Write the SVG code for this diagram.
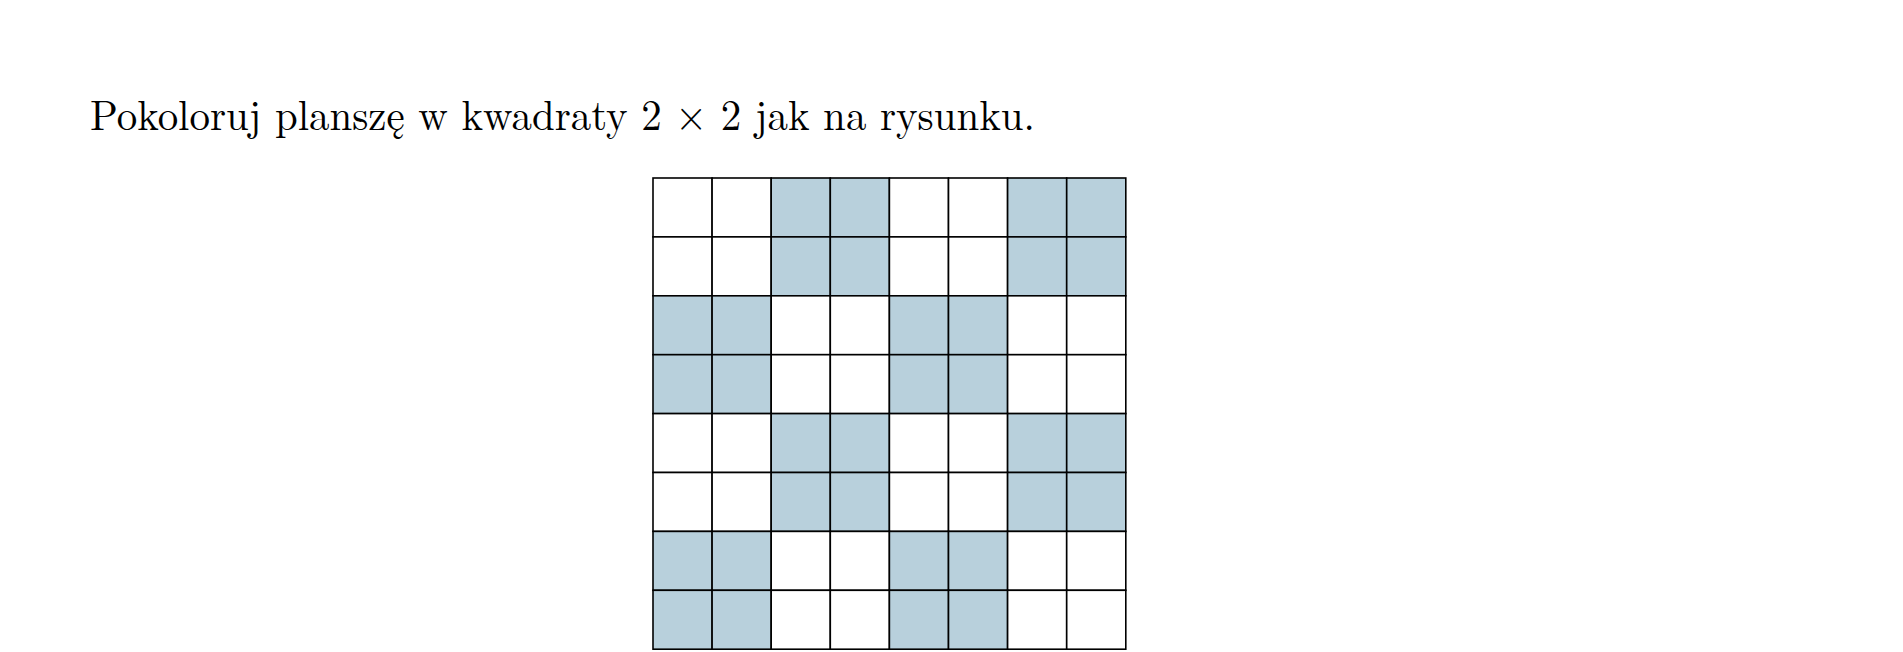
<svg xmlns="http://www.w3.org/2000/svg" width="1903" height="652" viewBox="0 0 1903 652">
<style>
.t{font-family:"Latin Modern Roman","Liberation Serif","DejaVu Serif",serif;font-size:43px;fill:#000}
.w{fill:#fff;stroke:#000;stroke-width:1.6}
.b{fill:#b8d0dc;stroke:#000;stroke-width:1.6}
</style>
<rect width="1903" height="652" fill="#fff"/>
<text class="t" x="90" y="130" textLength="945" lengthAdjust="spacingAndGlyphs">Pokoloruj planszę w kwadraty 2 × 2 jak na rysunku.</text>
<g id="board">
<g id="r0"><rect class="w" x="653" y="178" width="59.1" height="58.9"/><rect class="w" x="712.1" y="178" width="59.1" height="58.9"/><rect class="b" x="771.2" y="178" width="59.1" height="58.9"/><rect class="b" x="830.3" y="178" width="59.1" height="58.9"/><rect class="w" x="889.4" y="178" width="59.1" height="58.9"/><rect class="w" x="948.5" y="178" width="59.1" height="58.9"/><rect class="b" x="1007.6" y="178" width="59.1" height="58.9"/><rect class="b" x="1066.7" y="178" width="59.1" height="58.9"/></g>
<g id="r1"><rect class="w" x="653" y="236.9" width="59.1" height="58.9"/><rect class="w" x="712.1" y="236.9" width="59.1" height="58.9"/><rect class="b" x="771.2" y="236.9" width="59.1" height="58.9"/><rect class="b" x="830.3" y="236.9" width="59.1" height="58.9"/><rect class="w" x="889.4" y="236.9" width="59.1" height="58.9"/><rect class="w" x="948.5" y="236.9" width="59.1" height="58.9"/><rect class="b" x="1007.6" y="236.9" width="59.1" height="58.9"/><rect class="b" x="1066.7" y="236.9" width="59.1" height="58.9"/></g>
<g id="r2"><rect class="b" x="653" y="295.8" width="59.1" height="58.9"/><rect class="b" x="712.1" y="295.8" width="59.1" height="58.9"/><rect class="w" x="771.2" y="295.8" width="59.1" height="58.9"/><rect class="w" x="830.3" y="295.8" width="59.1" height="58.9"/><rect class="b" x="889.4" y="295.8" width="59.1" height="58.9"/><rect class="b" x="948.5" y="295.8" width="59.1" height="58.9"/><rect class="w" x="1007.6" y="295.8" width="59.1" height="58.9"/><rect class="w" x="1066.7" y="295.8" width="59.1" height="58.9"/></g>
<g id="r3"><rect class="b" x="653" y="354.7" width="59.1" height="58.9"/><rect class="b" x="712.1" y="354.7" width="59.1" height="58.9"/><rect class="w" x="771.2" y="354.7" width="59.1" height="58.9"/><rect class="w" x="830.3" y="354.7" width="59.1" height="58.9"/><rect class="b" x="889.4" y="354.7" width="59.1" height="58.9"/><rect class="b" x="948.5" y="354.7" width="59.1" height="58.9"/><rect class="w" x="1007.6" y="354.7" width="59.1" height="58.9"/><rect class="w" x="1066.7" y="354.7" width="59.1" height="58.9"/></g>
<g id="r4"><rect class="w" x="653" y="413.6" width="59.1" height="58.9"/><rect class="w" x="712.1" y="413.6" width="59.1" height="58.9"/><rect class="b" x="771.2" y="413.6" width="59.1" height="58.9"/><rect class="b" x="830.3" y="413.6" width="59.1" height="58.9"/><rect class="w" x="889.4" y="413.6" width="59.1" height="58.9"/><rect class="w" x="948.5" y="413.6" width="59.1" height="58.9"/><rect class="b" x="1007.6" y="413.6" width="59.1" height="58.9"/><rect class="b" x="1066.7" y="413.6" width="59.1" height="58.9"/></g>
<g id="r5"><rect class="w" x="653" y="472.5" width="59.1" height="58.9"/><rect class="w" x="712.1" y="472.5" width="59.1" height="58.9"/><rect class="b" x="771.2" y="472.5" width="59.1" height="58.9"/><rect class="b" x="830.3" y="472.5" width="59.1" height="58.9"/><rect class="w" x="889.4" y="472.5" width="59.1" height="58.9"/><rect class="w" x="948.5" y="472.5" width="59.1" height="58.9"/><rect class="b" x="1007.6" y="472.5" width="59.1" height="58.9"/><rect class="b" x="1066.7" y="472.5" width="59.1" height="58.9"/></g>
<g id="r6"><rect class="b" x="653" y="531.4" width="59.1" height="58.9"/><rect class="b" x="712.1" y="531.4" width="59.1" height="58.9"/><rect class="w" x="771.2" y="531.4" width="59.1" height="58.9"/><rect class="w" x="830.3" y="531.4" width="59.1" height="58.9"/><rect class="b" x="889.4" y="531.4" width="59.1" height="58.9"/><rect class="b" x="948.5" y="531.4" width="59.1" height="58.9"/><rect class="w" x="1007.6" y="531.4" width="59.1" height="58.9"/><rect class="w" x="1066.7" y="531.4" width="59.1" height="58.9"/></g>
<g id="r7"><rect class="b" x="653" y="590.3" width="59.1" height="58.9"/><rect class="b" x="712.1" y="590.3" width="59.1" height="58.9"/><rect class="w" x="771.2" y="590.3" width="59.1" height="58.9"/><rect class="w" x="830.3" y="590.3" width="59.1" height="58.9"/><rect class="b" x="889.4" y="590.3" width="59.1" height="58.9"/><rect class="b" x="948.5" y="590.3" width="59.1" height="58.9"/><rect class="w" x="1007.6" y="590.3" width="59.1" height="58.9"/><rect class="w" x="1066.7" y="590.3" width="59.1" height="58.9"/></g>
</g>
</svg>
